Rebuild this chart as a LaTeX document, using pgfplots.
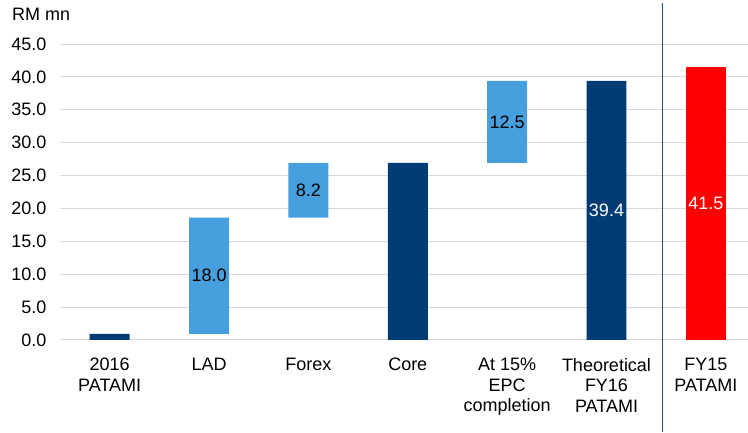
\documentclass[border=0pt]{standalone}
\usepackage{fontspec}
\setmainfont{Liberation Sans}
\usepackage{pgfplots}
\pgfplotsset{compat=1.18}
\usepackage{pgfplotstable}
\definecolor{darkb}{RGB}{0,59,115}
\definecolor{lightb}{RGB}{72,159,222}
\definecolor{gridc}{RGB}{217,217,217}
\definecolor{linec}{RGB}{31,78,121}
\pgfplotstableread{
x base light dark red
0 0 0 0.9 0
1 0.9 17.7 0 0
2 18.6 8.3 0 0
3 0 0 26.9 0
4 26.9 12.5 0 0
5 0 0 39.4 0
6 0 0 0 41.5
}\bars
\begin{document}
\begin{tikzpicture}[font=\fontsize{18}{20.5}\selectfont]
\pgfplotsset{common/.style={scale only axis, width=688pt, height=296pt,
  xmin=-0.5, xmax=6.42, ymin=0, ymax=45}}
\begin{axis}[common,
  ybar stacked, bar width=40pt,
  axis line style={draw=none}, tick style={draw=none},
  ymajorgrids, grid style={gridc, line width=0.8pt},
  ytick={0,5,...,45},
  yticklabel style={/pgf/number format/fixed, /pgf/number format/precision=1,
    /pgf/number format/fixed zerofill, xshift=-10pt},
  /pgf/number format/assume math mode=true,
  xtick={0,...,6},
  xticklabels={{2016\\PATAMI},LAD,Forex,Core,{At 15\%\\EPC\\completion},{Theoretical\\FY16\\PATAMI},{FY15\\PATAMI}},
  xticklabel style={align=center, yshift=-15pt},
]
\addplot[draw=none, fill=none] table[x=x, y=base] {\bars};
\addplot[draw=none, fill=lightb] table[x=x, y=light] {\bars};
\addplot[draw=none, fill=darkb] table[x=x, y=dark] {\bars};
\addplot[draw=none, fill=red] table[x=x, y=red] {\bars};
\end{axis}
\begin{axis}[common, hide axis, clip=false]
\addplot[only marks, mark=none, nodes near coords, point meta=explicit symbolic,
  every node near coord/.style={anchor=center, text=black}]
  coordinates {(1,9.75)[18.0] (2,22.75)[8.2] (4,33.15)[12.5]};
\addplot[only marks, mark=none, nodes near coords, point meta=explicit symbolic,
  every node near coord/.style={anchor=center, text=white}]
  coordinates {(5,19.7)[39.4] (6,20.75)[41.5]};
\addplot[linec, line width=1.2pt] coordinates {(5.56,-14) (5.56,51.2)};
\node[anchor=base west, inner sep=0] at ([xshift=-48pt, yshift=23pt]rel axis cs:0,1) {RM mn};
\path ([xshift=-60pt, yshift=44pt]rel axis cs:0,1) -- ([yshift=-92pt]rel axis cs:1,0);
\end{axis}
\end{tikzpicture}
\end{document}
